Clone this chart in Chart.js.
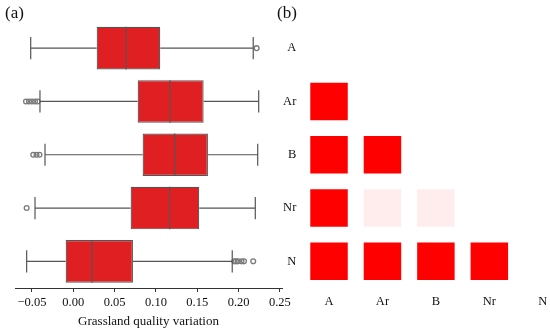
<!DOCTYPE html>
<html>
<head>
<meta charset="utf-8">
<script src="https://cdn.jsdelivr.net/npm/chart.js@4.4.0/dist/chart.umd.min.js"></script>
<style>
  html, body { margin: 0; padding: 0; background: #fff; overflow: hidden; }
  #wrap { position: relative; width: 620px; height: 333px; }
  #boxWrap { position: absolute; left: 0; top: 0; width: 300px; height: 333px; }
  #heatWrap { position: absolute; left: 260px; top: -5px; width: 336px; height: 338px; }
  .panel { position: absolute; top: 3px; font-family: "Liberation Serif", serif; font-size: 17px; color: #111; }
</style>
</head>
<body>
<div id="wrap">
  <div id="boxWrap"><canvas id="boxChart" width="300" height="333"></canvas></div>
  <div id="heatWrap"><canvas id="heatChart" width="336" height="338"></canvas></div>
  <div class="panel" style="left:5px;">(a)</div>
  <div class="panel" style="left:277px;">(b)</div>
</div>
<script>
// categories
const groups = ['A', 'Ar', 'B', 'Nr', 'N'];

// box plot stats, one entry per group
const whiskerLow  = [-0.0515, -0.0403, -0.0342, -0.0463, -0.0564];
const quart1      = [ 0.0283,  0.0779,  0.0839,  0.0694, -0.0092];
const medians     = [ 0.0637,  0.1170,  0.1227,  0.1166,  0.0226];
const quart3      = [ 0.1052,  0.1577,  0.1629,  0.1524,  0.0722];
const whiskerHigh = [ 0.2177,  0.2243,  0.2231,  0.2202,  0.1923];

// outliers per group
const outliers = [
    [0.2218],
    [-0.0572, -0.0536, -0.0500, -0.0463, -0.0431],
    [-0.0484, -0.0445, -0.0409],
    [-0.0564],
    [0.1948, 0.1968, 0.1992, 0.2035, 0.2065, 0.2177]
];

const xTicks = [-0.05, 0.00, 0.05, 0.10, 0.15, 0.20, 0.25];

// pairwise significance matrix (rows x cols), null = empty cell
const pairValues = [
    [null, null, null, null, null],
    [1,    null, null, null, null],
    [1,    1,    null, null, null],
    [1,    0.07, 0.07, null, null],
    [1,    1,    1,    1,    null]
];

const serif = '"Liberation Serif", "Times New Roman", serif';
Chart.defaults.font.family = serif;
Chart.defaults.color = '#111';

// whiskers + medians drawn from the scales
const boxPlugin = {
    id: 'boxParts',
    afterDatasetsDraw(chart) {
        const ctx = chart.ctx;
        const xs = chart.scales.x;
        const meta = chart.getDatasetMeta(0);
        ctx.save();
        ctx.strokeStyle = '#555';
        ctx.lineWidth = 1.2;
        groups.forEach((g, i) => {
            const bar = meta.data[i];
            const y = bar.y;
            const h = bar.height;
            const cap = h * 0.26;
            const pLo = xs.getPixelForValue(whiskerLow[i]);
            const pQ1 = xs.getPixelForValue(quart1[i]);
            const pQ3 = xs.getPixelForValue(quart3[i]);
            const pHi = xs.getPixelForValue(whiskerHigh[i]);
            const pMed = xs.getPixelForValue(medians[i]);
            ctx.beginPath();
            ctx.moveTo(pLo, y); ctx.lineTo(pQ1, y);
            ctx.moveTo(pQ3, y); ctx.lineTo(pHi, y);
            ctx.moveTo(pLo, y - cap); ctx.lineTo(pLo, y + cap);
            ctx.moveTo(pHi, y - cap); ctx.lineTo(pHi, y + cap);
            ctx.moveTo(pMed, y - h / 2); ctx.lineTo(pMed, y + h / 2);
            ctx.stroke();
        });
        ctx.restore();
    }
};

const outlierPoints = [];
outliers.forEach((list, i) => {
    list.forEach(v => outlierPoints.push({ x: v, y: groups[i] }));
});

new Chart(document.getElementById('boxChart'), {
    type: 'bar',
    data: {
        labels: groups,
        datasets: [{
            data: groups.map((g, i) => [quart1[i], quart3[i]]),
            backgroundColor: '#e01f23',
            borderColor: '#555',
            borderWidth: 1.2,
            borderSkipped: false,
            barPercentage: 0.8,
            categoryPercentage: 1.0
        }, {
            type: 'scatter',
            data: outlierPoints,
            pointRadius: 2.4,
            pointBorderWidth: 1.3,
            pointBorderColor: '#7a7a7a',
            pointBackgroundColor: 'rgba(0,0,0,0)'
        }]
    },
    options: {
        indexAxis: 'y',
        responsive: false,
        animation: false,
        events: [],
        layout: { padding: { left: 15, right: 18, top: 21.5, bottom: 0 } },
        plugins: { legend: { display: false }, tooltip: { enabled: false } },
        scales: {
            y: { display: false, offset: true },
            x: {
                type: 'linear',
                min: -0.0705,
                max: 0.2525,
                afterBuildTicks: scale => { scale.ticks = xTicks.map(v => ({ value: v })); },
                afterFit: scale => { scale.height = 45; },
                grid: { drawOnChartArea: false, drawTicks: true, tickLength: 4, color: '#333' },
                border: { display: true, color: '#333', width: 1 },
                ticks: {
                    padding: 3,
                    maxRotation: 0,
                    font: { size: 12.5 },
                    callback: v => (v < 0 ? '\u2212' : '') + Math.abs(v).toFixed(2)
                },
                title: {
                    display: true,
                    text: 'Grassland quality variation',
                    font: { size: 13 },
                    padding: { top: 0, bottom: 3.5 }
                }
            }
        }
    },
    plugins: [boxPlugin]
});

const cells = [];
pairValues.forEach((row, i) => {
    row.forEach((v, j) => {
        if (v !== null) cells.push({ x: groups[j], y: groups[i], v: v });
    });
});

// point radius overflow adds 26.5px top/right padding; canvas is offset for it
new Chart(document.getElementById('heatChart'), {
    type: 'scatter',
    data: {
        datasets: [{
            data: cells,
            pointStyle: 'rect',
            pointRadius: 26.5,
            pointBorderWidth: 0,
            pointBackgroundColor: ctx => {
                const c = ctx.raw;
                return c ? 'rgba(255,0,0,' + c.v + ')' : 'rgba(0,0,0,0)';
            }
        }]
    },
    options: {
        responsive: false,
        animation: false,
        events: [],
        layout: { padding: 0 },
        plugins: { legend: { display: false }, tooltip: { enabled: false } },
        scales: {
            x: {
                type: 'category',
                labels: groups,
                offset: true,
                afterFit: scale => { scale.height = 45; },
                grid: { display: false, drawTicks: false },
                border: { display: false },
                ticks: { padding: 6, font: { size: 12.5 } }
            },
            y: {
                type: 'category',
                labels: groups,
                offset: true,
                afterFit: scale => { scale.width = 42.3; },
                grid: { display: false, drawTicks: false },
                border: { display: false },
                ticks: { padding: 6, font: { size: 12.5 } }
            }
        }
    }
});
</script>
</body>
</html>
